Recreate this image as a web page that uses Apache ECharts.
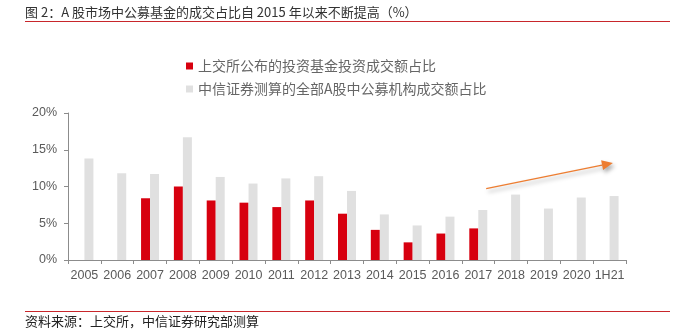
<!DOCTYPE html>
<html>
<head>
<meta charset="utf-8">
<script src="https://cdn.jsdelivr.net/npm/echarts@6/dist/echarts.min.js"></script>
<style>
  html, body { margin: 0; padding: 0; background: #fff; }
  #chart { width: 677px; height: 331px; }
</style>
</head>
<body>
<div id="chart"></div>
<script>
// Years on the x axis
const categories = ['2005', '2006', '2007', '2008', '2009', '2010', '2011', '2012', '2013',
  '2014', '2015', '2016', '2017', '2018', '2019', '2020', '1H21'];

// 上交所公布的投资基金投资成交额占比 (%)
const sseFundShare = [null, null, 8.4, 10.0, 8.1, 7.8, 7.2, 8.1, 6.3, 4.1, 2.4, 3.6, 4.3,
  null, null, null, null];

// 中信证券测算的全部A股中公募机构成交额占比 (%)
const citicFundShare = [13.8, 11.8, 11.7, 16.7, 11.3, 10.4, 11.1, 11.4, 9.4, 6.2, 4.7, 5.9, 6.8,
  8.9, 7.0, 8.5, 8.7];

const seriesNames = ['上交所公布的投资基金投资成交额占比', '中信证券测算的全部A股中公募机构成交额占比'];
const yTicks = [0, 5, 10, 15, 20];

const titleText = '图 2：A 股市场中公募基金的成交占比自 2015 年以来不断提高（%）';
const sourceText = '资料来源：上交所，中信证券研究部测算';

const chart = echarts.init(document.getElementById('chart'), null, { renderer: 'canvas' });
const FONT = '"Liberation Sans", Arial, "Noto Sans CJK SC", sans-serif';
const CJK = '"Noto Sans CJK SC", "Liberation Sans", sans-serif';

const option = {
  backgroundColor: '#fff',
  animation: false,
  textStyle: { fontFamily: FONT },
  legend: {
    orient: 'vertical',
    left: 181,
    top: 54,
    itemWidth: 7,
    itemHeight: 7,
    itemGap: 9,
    icon: 'rect',
    textStyle: { fontSize: 14, color: '#666', fontFamily: CJK, lineHeight: 14 },
    data: seriesNames
  },
  grid: { left: 68, right: 51, top: 113, bottom: 71, containLabel: false },
  xAxis: {
    type: 'category',
    data: categories,
    axisLine: { lineStyle: { color: '#8c8c8c', width: 1 } },
    axisTick: { show: true, length: 4, lineStyle: { color: '#8c8c8c' } },
    axisLabel: { color: '#5a5a5a', fontSize: 12.5, margin: 9, fontFamily: FONT, interval: 0 }
  },
  yAxis: {
    type: 'value',
    min: yTicks[0],
    max: yTicks[yTicks.length - 1],
    interval: yTicks[1] - yTicks[0],
    splitLine: { show: false },
    axisLine: { show: true, lineStyle: { color: '#8c8c8c', width: 1 } },
    axisTick: { show: true, length: 4, lineStyle: { color: '#8c8c8c' } },
    axisLabel: { color: '#5a5a5a', fontSize: 12.5, margin: 11, formatter: '{value}%', fontFamily: FONT }
  },
  series: [
    {
      name: seriesNames[0],
      type: 'bar',
      data: sseFundShare,
      barWidth: 9,
      barGap: '0%',
      itemStyle: { color: '#d7000f' }
    },
    {
      name: seriesNames[1],
      type: 'bar',
      data: citicFundShare,
      barWidth: 9,
      barGap: '0%',
      itemStyle: { color: '#e0e0e0' }
    }
  ],
  graphic: [
    {
      type: 'text', left: 25, top: 6,
      style: { text: titleText, font: '13px ' + CJK, fill: '#333' }
    },
    {
      type: 'line', shape: { x1: 25, y1: 21.5, x2: 670, y2: 21.5 },
      style: { stroke: '#c8262b', lineWidth: 1.2 }
    },
    {
      type: 'line', shape: { x1: 25, y1: 311.5, x2: 670, y2: 311.5 },
      style: { stroke: '#c8262b', lineWidth: 1.2 }
    },
    {
      type: 'text', left: 25, top: 315,
      style: { text: sourceText, font: '13px ' + CJK, fill: '#222' }
    }
  ]
};

chart.setOption(option);

// Trend arrow, anchored to the grid's data coordinates
function pointAt(idx, frac, val) {
  const a = chart.convertToPixel({ gridIndex: 0 }, [idx, val]);
  const b = chart.convertToPixel({ gridIndex: 0 }, [idx + 1, val]);
  return [a[0] + (b[0] - a[0]) * frac, a[1]];
}
const start = pointAt(12, 0.24, 9.7);
const end = pointAt(16, 0.1, 13.2);
const ang = Math.atan2(end[1] - start[1], end[0] - start[0]);
const headLen = 11, headW = 5;
const bx = end[0] - headLen * Math.cos(ang), by = end[1] - headLen * Math.sin(ang);
const nx = -Math.sin(ang) * headW, ny = Math.cos(ang) * headW;
const shadow = { shadowBlur: 4, shadowOffsetX: 2, shadowOffsetY: 3, shadowColor: 'rgba(0,0,0,0.35)' };

chart.setOption({
  graphic: option.graphic.concat([
    {
      type: 'line',
      shape: { x1: start[0], y1: start[1], x2: bx, y2: by },
      style: Object.assign({ stroke: '#ed7d31', lineWidth: 1.3 }, shadow)
    },
    {
      type: 'polygon',
      shape: { points: [[end[0], end[1]], [bx + nx, by + ny], [bx - nx, by - ny]] },
      style: Object.assign({ fill: '#ed7d31' }, shadow)
    }
  ])
});
</script>
</body>
</html>
